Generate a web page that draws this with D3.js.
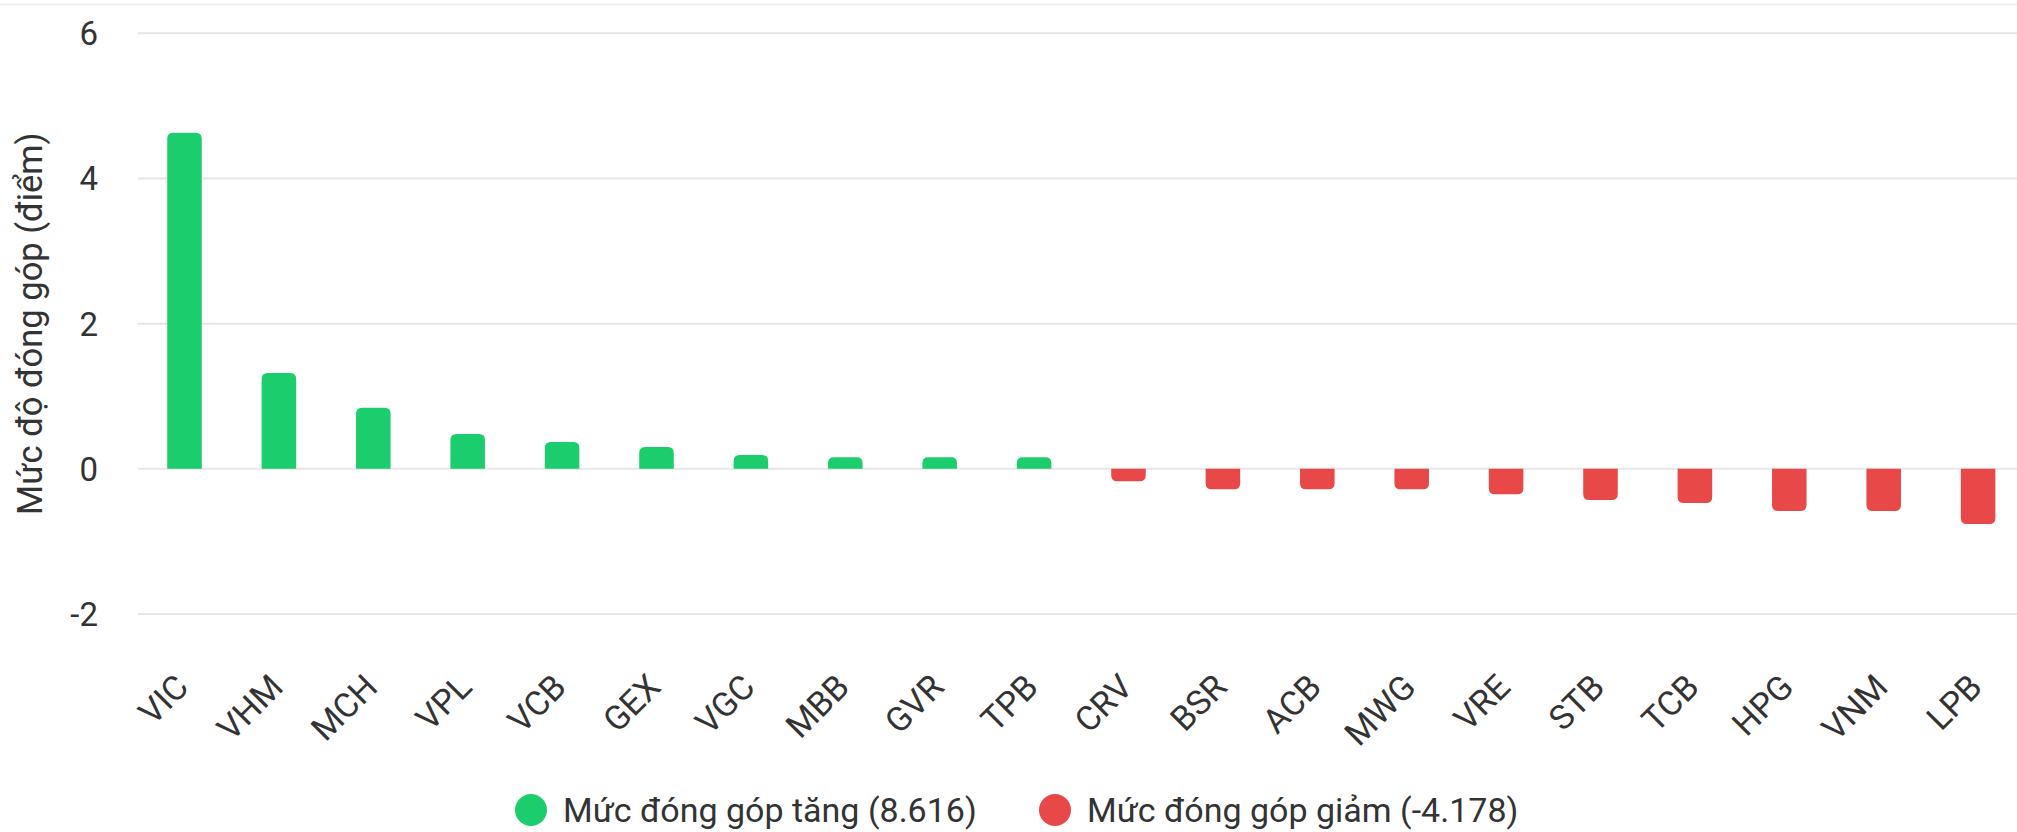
<!DOCTYPE html>
<html>
<head>
<meta charset="utf-8">
<script src="https://cdn.jsdelivr.net/npm/d3@7"></script>
<style>
  html, body { margin: 0; padding: 0; background: #fff; }
  svg { display: block; font-family: Roboto, "Noto Sans", sans-serif; }
</style>
</head>
<body>
<svg id="chart" width="2017" height="832"></svg>
<script>
// ---- data ----
const categories = ["VIC","VHM","MCH","VPL","VCB","GEX","VGC","MBB","GVR","TPB",
                    "CRV","BSR","ACB","MWG","VRE","STB","TCB","HPG","VNM","LPB"];
const values = [4.63, 1.32, 0.84, 0.48, 0.37, 0.30, 0.19, 0.16, 0.16, 0.16,
                -0.17, -0.28, -0.28, -0.28, -0.35, -0.43, -0.47, -0.58, -0.58, -0.76];
const yTicks = [-2, 0, 2, 4, 6];
const yTitle = "Mức độ đóng góp (điểm)";
const legendLabels = ["Mức đóng góp tăng (8.616)", "Mức đóng góp giảm (-4.178)"];
const colors = { up: "#1ccd6e", down: "#e84848" };

// ---- layout ----
const W = 2017, H = 832;
const svg = d3.select("#chart");

const x = d3.scaleBand().domain(categories).range([137.3, 2025.3]).padding(0);
const y = d3.scaleLinear().domain([-2, 6]).range([614, 33.3]);
const barW = x.bandwidth() * 0.366;
const r = 6;

// top faint border
svg.append("line")
  .attr("x1", 0).attr("x2", W).attr("y1", 4.5).attr("y2", 4.5)
  .attr("stroke", "#efefef").attr("stroke-width", 2);

// gridlines
svg.append("g").selectAll("line").data(yTicks).join("line")
  .attr("x1", 138).attr("x2", W)
  .attr("y1", d => y(d)).attr("y2", d => y(d))
  .attr("stroke", "#e6e6e6").attr("stroke-width", 2);

// y tick labels
svg.append("g").selectAll("text").data(yTicks).join("text")
  .attr("x", 98).attr("y", d => y(d))
  .attr("dy", "0.36em")
  .attr("text-anchor", "end")
  .attr("font-size", 33)
  .attr("fill", "#333")
  .text(d => d);

// y title
svg.append("text")
  .attr("transform", `translate(30,${(y(6) + y(-2)) / 2}) rotate(-90)`)
  .attr("text-anchor", "middle")
  .attr("dy", "0.36em")
  .attr("font-size", 34.5)
  .attr("fill", "#333")
  .text(yTitle);

// bars with rounded outer corners
function barPath(cx, v) {
  const x0 = cx - barW / 2, x1 = cx + barW / 2;
  const y0 = y(0), y1 = y(v);
  const h = Math.abs(y1 - y0);
  const rr = Math.min(r, h / 2, barW / 2);
  if (v >= 0) {
    return `M${x0},${y0} L${x0},${y1 + rr} Q${x0},${y1} ${x0 + rr},${y1} L${x1 - rr},${y1} Q${x1},${y1} ${x1},${y1 + rr} L${x1},${y0} Z`;
  } else {
    return `M${x0},${y0} L${x0},${y1 - rr} Q${x0},${y1} ${x0 + rr},${y1} L${x1 - rr},${y1} Q${x1},${y1} ${x1},${y1 - rr} L${x1},${y0} Z`;
  }
}

svg.append("g").selectAll("path").data(categories).join("path")
  .attr("d", (c, i) => barPath(x(c) + x.bandwidth() / 2, values[i]))
  .attr("fill", (c, i) => values[i] >= 0 ? colors.up : colors.down);

// x labels rotated
svg.append("g").selectAll("text").data(categories).join("text")
  .attr("transform", c => `translate(${x(c) + x.bandwidth() / 2 + 6},689) rotate(-45)`)
  .attr("text-anchor", "end")
  .attr("font-size", 34)
  .attr("fill", "#333")
  .text(c => c);

// legend
const legend = svg.append("g");
const legendItems = [
  { label: legendLabels[0], color: colors.up, cx: 531 },
  { label: legendLabels[1], color: colors.down, cx: 1055 }
];
legendItems.forEach(it => {
  legend.append("circle").attr("cx", it.cx).attr("cy", 810).attr("r", 16).attr("fill", it.color);
  legend.append("text")
    .attr("x", it.cx + 32).attr("y", 822)
    .attr("font-size", 34).attr("fill", "#333")
    .text(it.label);
});
</script>
</body>
</html>
